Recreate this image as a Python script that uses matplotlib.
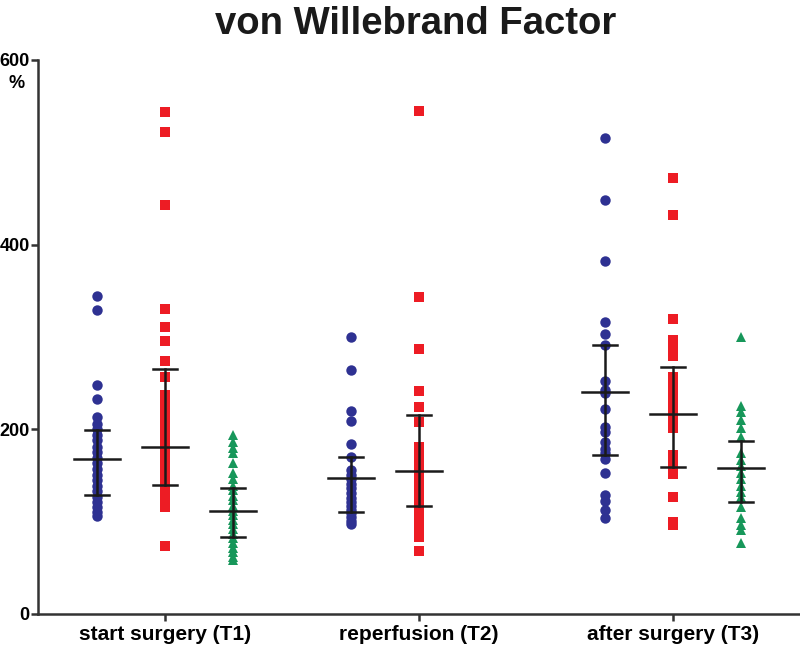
import numpy as np
import matplotlib.pyplot as plt

plt.rcParams['font.family'] = ['Liberation Sans', 'DejaVu Sans']

groups = ["start surgery (T1)", "reperfusion (T2)", "after surgery (T3)"]

# blue circles
blue_t1 = [344, 329, 248, 233, 213, 206, 200, 194, 188, 181, 175, 169, 163, 157, 151, 145, 139, 133, 127, 121, 116, 111, 106]
blue_t2 = [300, 264, 220, 209, 184, 170, 156, 151, 146, 141, 136, 131, 126, 121, 117, 113, 109, 105, 101, 97]
blue_t3 = [515, 448, 382, 316, 303, 291, 252, 243, 239, 222, 203, 197, 186, 179, 174, 168, 153, 129, 122, 113, 104]

# red squares
red_t1 = [544, 522, 443, 330, 311, 296, 274, 257, 237, 228, 218, 208, 197, 190, 183, 176, 169, 161, 153, 146, 139, 132, 124, 116, 74]
red_t2 = [545, 343, 287, 241, 224, 208, 181, 174, 167, 160, 153, 146, 139, 133, 127, 121, 115, 109, 103, 97, 90, 83, 68]
red_t3 = [472, 432, 319, 297, 288, 279, 257, 248, 239, 234, 226, 217, 208, 201, 172, 162, 152, 127, 100, 96]

# green triangles (none at T2)
green_t1 = [194, 186, 180, 174, 163, 153, 146, 139, 134, 128, 123, 117, 112, 107, 102, 97, 92, 87, 82, 77, 72, 67, 62, 58]
green_t2 = []
green_t3 = [300, 225, 219, 210, 201, 192, 174, 167, 160, 153, 146, 139, 132, 127, 116, 104, 96, 91, 77]

# median and interquartile range per group
blue_med = [168, 147, 240]
blue_q1 = [129, 111, 172]
blue_q3 = [199, 170, 291]
red_med = [181, 155, 217]
red_q1 = [140, 117, 159]
red_q3 = [265, 216, 268]
green_med = [112, None, 158]
green_q1 = [83, None, 121]
green_q3 = [136, None, 187]

series = [
    ([blue_t1, blue_t2, blue_t3], blue_med, blue_q1, blue_q3, '#2E3192', 'o', 7.5, -0.268),
    ([red_t1, red_t2, red_t3], red_med, red_q1, red_q3, '#ED1C24', 's', 7, 0.0),
    ([green_t1, green_t2, green_t3], green_med, green_q1, green_q3, '#17975A', '^', 7.5, 0.268),
]

fig = plt.figure(figsize=(8, 6.5), dpi=100)
ax = fig.add_axes([0.0475, 0.0554, 0.9525, 0.8523])

for data, med, q1, q3, color, marker, ms, off in series:
    for i, vals in enumerate(data):
        if len(vals) == 0:
            continue
        x = i + off
        ax.plot([x] * len(vals), vals, linestyle='none', marker=marker,
                color=color, markersize=ms, markeredgewidth=0, zorder=2)
    for i in range(3):
        if med[i] is None:
            continue
        x = i + off
        ax.plot([x, x], [q1[i], q3[i]], color='#1a1a1a', lw=1.8, zorder=3)
        ax.plot([x - 0.09, x + 0.09], [med[i], med[i]], color='#1a1a1a', lw=1.8, zorder=3)
        ax.plot([x - 0.048, x + 0.048], [q1[i], q1[i]], color='#1a1a1a', lw=1.8, zorder=3)
        ax.plot([x - 0.048, x + 0.048], [q3[i], q3[i]], color='#1a1a1a', lw=1.8, zorder=3)

ax.set_xlim(-0.5, 2.5)
ax.set_ylim(0, 600)
ax.set_yticks([0, 200, 400, 600])
ax.set_xticks(range(3))
ax.set_xticklabels(groups, fontsize=15, fontweight='bold')
for lab in ax.get_yticklabels():
    lab.set_fontweight('bold')
    lab.set_fontsize(13)
ax.tick_params(axis='both', direction='out', length=5, width=1.8, color='#333333', pad=1)
ax.tick_params(axis='x', pad=3)
for s in ['top', 'right']:
    ax.spines[s].set_visible(False)
for s in ['left', 'bottom']:
    ax.spines[s].set_linewidth(1.8)
    ax.spines[s].set_color('#333333')

ax.text(-0.028, 0.958, '%', transform=ax.transAxes, fontsize=13, fontweight='bold',
        ha='center', va='center')
fig.suptitle('von Willebrand Factor', x=0.52, y=0.99, fontsize=27.5, fontweight='bold',
             color='#1a1a1a', va='top')

fig.savefig('out.png', dpi=100)
